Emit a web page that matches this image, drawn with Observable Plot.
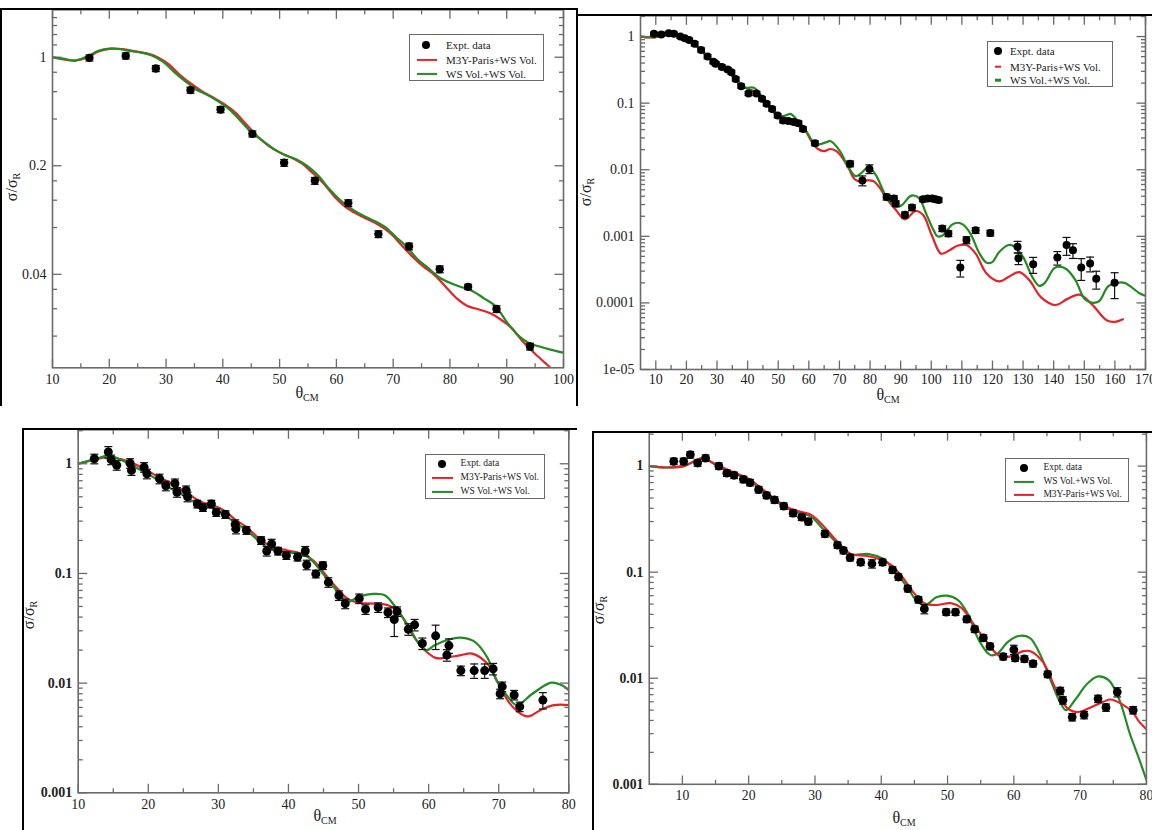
<!DOCTYPE html>
<html><head><meta charset="utf-8">
<script src="https://cdn.jsdelivr.net/npm/d3@7"></script>
<script src="https://cdn.jsdelivr.net/npm/@observablehq/plot@0.6"></script>
<style>
html,body{margin:0;padding:0;background:#fff;overflow:hidden;}
#root{position:relative;width:1152px;height:830px;overflow:hidden;background:#fff;font-family:"Liberation Serif",serif;color:#222;}
.panel{position:absolute;}
.panel svg text{font-family:"Liberation Serif",serif;}
.bline{position:absolute;background:#000;}
.legend{position:absolute;border:1.5px solid #6a6a6a;background:#fff;box-sizing:border-box;}
.legend .txt{position:absolute;white-space:nowrap;line-height:1;transform:translateY(-50%);color:#222;font-family:"Liberation Serif",serif;}
.legend .dot{position:absolute;border-radius:50%;background:#000;transform:translate(-50%,-50%);}
.legend .ln{position:absolute;transform:translateY(-50%);}
.title{position:absolute;white-space:nowrap;font-size:16px;line-height:1;color:#222;font-family:"Liberation Serif",serif;}
.title sub{font-size:10px;vertical-align:-3px;}
</style></head><body><div id="root"></div>
<script>
const RED = "#e3232a", GREEN = "#228b22", AX = "#6a6a6a";
const SERIF = "Liberation Serif, serif";

// ---------- Panel 1 (top-left) ----------
const p1PointX = [16.5, 22.9, 28.2, 34.3, 39.6, 45.2, 50.8, 56.2, 62.1, 67.4, 72.8, 78.2, 83.2, 88.2, 94.1];
const p1PointY = [0.99, 1.02, 0.846, 0.614, 0.46, 0.321, 0.209, 0.160, 0.115, 0.0726, 0.0605, 0.0431, 0.0332, 0.0239, 0.0137];
const p1PointErr = [0.045, 0.045, 0.045, 0.045, 0.045, 0.045, 0.05, 0.05, 0.05, 0.05, 0.05, 0.05, 0.04, 0.05, 0.05];
const p1RedX = [10, 13.9, 16.2, 18.1, 20.4, 22.3, 24.6, 26.9, 28.5, 30.5, 32.4, 34.4, 36.3, 38.3, 40.2, 42.2, 44.1, 46.1, 48, 50, 51.9, 53.9, 55.8, 57.8, 59.7, 61.7, 63.6, 65.6, 67.5, 69.5, 71.4, 73.4, 75.3, 77.3, 79.2, 81.2, 83.1, 85, 87, 89, 90.9, 92.8, 94.8, 96.7, 97.7, 98.5];
const p1RedY = [1.0, 0.952, 1.0, 1.09, 1.136, 1.13, 1.09, 1.05, 1.0, 0.90, 0.77, 0.675, 0.605, 0.55, 0.50, 0.44, 0.37, 0.31, 0.27, 0.244, 0.227, 0.207, 0.18, 0.153, 0.126, 0.108, 0.098, 0.09, 0.083, 0.0736, 0.062, 0.052, 0.045, 0.0395, 0.0334, 0.028, 0.025, 0.0238, 0.0225, 0.0204, 0.018, 0.0148, 0.0125, 0.0108, 0.0100, 0.0093];
const p1GreenX = [10, 11.9, 13.9, 16.2, 18.1, 20.1, 21.7, 23.6, 25.9, 27.5, 29.5, 31.4, 33.4, 35.3, 37.3, 39.2, 41.2, 43.1, 45.1, 47, 49, 50.9, 52.9, 54.8, 56.8, 58.7, 60.7, 62.6, 64.6, 66.5, 68.5, 70.4, 72.4, 74.3, 76.3, 78.2, 80.2, 82.1, 84.1, 86, 88, 89.9, 91.9, 93.8, 95.8, 97.7, 100];
const p1GreenY = [1.0, 0.98, 0.952, 1.015, 1.10, 1.136, 1.13, 1.10, 1.066, 1.025, 0.933, 0.805, 0.70, 0.62, 0.57, 0.52, 0.46, 0.39, 0.327, 0.29, 0.256, 0.235, 0.22, 0.2, 0.173, 0.142, 0.12, 0.106, 0.096, 0.089, 0.081, 0.070, 0.060, 0.050, 0.0435, 0.038, 0.035, 0.033, 0.031, 0.028, 0.025, 0.020, 0.0163, 0.0145, 0.0137, 0.0131, 0.0125];
const p1XTicks = [10, 20, 30, 40, 50, 60, 70, 80, 90, 100];
const p1XMinor = [15, 25, 35, 45, 55, 65, 75, 85, 95];
const p1YTicks = [1, 0.2, 0.04];
const p1YTickLabels = ["1", "0.2", "0.04"];
const p1YMinor = [1.8, 1.6, 1.4, 1.2, 0.8, 0.6, 0.4, 0.16, 0.12, 0.08, 0.032, 0.024, 0.016];

// ---------- Panel 2 (top-right) ----------
const p2PointX = [9.4, 11.8, 14.2, 15.9, 18, 19.5, 20.9, 22.7, 24.8, 26.9, 28.8, 29.6, 31.6, 33.5, 34.7, 36.1, 37.9, 40.3, 42.9, 44.7, 46.2, 48, 49.8, 51.6, 53.3, 55.1, 56.6, 58.1, 62, 73.5, 77.5, 79.8, 85.4, 87.8, 88.4, 91.4, 93.7, 97.3, 98.8, 100.3, 101.4, 102.4, 103.6, 105.6, 109.5, 111.5, 114.5, 119.3, 128.2, 128.5, 133.3, 141.2, 144.2, 146.3, 149, 151.9, 153.9, 159.9];
const p2PointY = [1.1, 1.07, 1.12, 1.1, 1.0, 0.94, 0.89, 0.78, 0.63, 0.5, 0.42, 0.39, 0.35, 0.32, 0.29, 0.23, 0.18, 0.14, 0.14, 0.116, 0.098, 0.082, 0.065, 0.055, 0.054, 0.052, 0.05, 0.041, 0.025, 0.0123, 0.0069, 0.0103, 0.0039, 0.0037, 0.0031, 0.0021, 0.0027, 0.0036, 0.0037, 0.0037, 0.0036, 0.0035, 0.00131, 0.0011, 0.00034, 0.00088, 0.00123, 0.00112, 0.00070, 0.00047, 0.00038, 0.00048, 0.00074, 0.00062, 0.00034, 0.00039, 0.00023, 0.0002];
const p2PointErr = [0.06, 0.06, 0.06, 0.06, 0.06, 0.06, 0.06, 0.07, 0.07, 0.07, 0.07, 0.07, 0.07, 0.07, 0.07, 0.07, 0.07, 0.07, 0.07, 0.07, 0.07, 0.07, 0.07, 0.08, 0.08, 0.08, 0.08, 0.08, 0.08, 0.1, 0.17, 0.15, 0.1, 0.1, 0.1, 0.1, 0.1, 0.08, 0.08, 0.08, 0.08, 0.08, 0.1, 0.1, 0.28, 0.12, 0.1, 0.1, 0.2, 0.2, 0.27, 0.23, 0.3, 0.25, 0.36, 0.25, 0.3, 0.42];
const p2RedX = [5, 8, 10, 12, 14, 16, 18, 20, 22.7, 25, 27.8, 30, 32, 34.5, 36.5, 38.5, 40.5, 42.5, 44.5, 46.5, 48.5, 50.5, 52.5, 55, 57, 59, 61, 63, 65, 67, 69, 71, 73, 75, 77, 79, 81, 83, 85.4, 88.4, 91.4, 94.9, 97.3, 100.3, 103.2, 106, 108.5, 111.5, 114.5, 118, 122.2, 125.5, 128.8, 132, 136, 140.6, 144.5, 148.4, 152.5, 157.3, 160, 162.6];
const p2RedY = [1.0, 0.97, 0.98, 1.06, 1.14, 1.08, 0.98, 0.9, 0.76, 0.62, 0.47, 0.41, 0.37, 0.29, 0.22, 0.18, 0.16, 0.15, 0.125, 0.1, 0.075, 0.06, 0.056, 0.057, 0.05, 0.038, 0.026, 0.0205, 0.019, 0.0205, 0.019, 0.015, 0.0105, 0.0072, 0.0066, 0.0069, 0.0068, 0.0055, 0.0037, 0.0025, 0.0018, 0.0024, 0.0021, 0.00100, 0.00055, 0.00062, 0.00072, 0.00074, 0.00055, 0.00028, 0.00021, 0.00025, 0.00029, 0.00022, 0.00012, 0.000093, 0.000115, 0.000133, 0.000095, 0.000055, 0.000052, 0.000057];
const p2GreenX = [5, 8, 10, 12, 14, 16, 18.3, 20.5, 23, 25.5, 27.8, 30, 31.4, 33, 34.9, 36.5, 37.9, 39.7, 42.1, 44.4, 46, 47.4, 49.8, 52.2, 54, 56.3, 59.3, 61.7, 62.9, 65.8, 67, 70, 72.9, 75.3, 77.1, 79.5, 81.9, 85.4, 88.4, 90.2, 93.1, 94.3, 96.1, 98.5, 100.9, 102, 103.8, 106.8, 108.6, 110.4, 112.8, 115.7, 118.1, 119.9, 122.2, 125.2, 127, 130, 132.9, 135.3, 137.1, 140.1, 141.8, 144.2, 147.1, 150.1, 152.4, 154.8, 157.8, 160.8, 163.2, 165.6, 168, 170];
const p2GreenY = [1.0, 0.98, 0.98, 1.08, 1.16, 1.07, 0.98, 0.87, 0.73, 0.58, 0.46, 0.40, 0.37, 0.32, 0.26, 0.21, 0.18, 0.17, 0.17, 0.13, 0.105, 0.087, 0.065, 0.065, 0.069, 0.055, 0.037, 0.025, 0.024, 0.026, 0.027, 0.0195, 0.011, 0.008, 0.0089, 0.011, 0.0083, 0.0039, 0.0028, 0.0029, 0.0040, 0.0041, 0.0037, 0.0021, 0.0012, 0.00100, 0.00104, 0.0015, 0.0016, 0.0015, 0.0011, 0.00056, 0.00040, 0.00041, 0.00058, 0.00074, 0.00071, 0.00049, 0.00025, 0.00018, 0.00020, 0.00033, 0.00035, 0.00032, 0.00022, 0.000115, 0.000101, 0.000106, 0.000177, 0.0002, 0.0002, 0.00017, 0.00014, 0.000128];
const p2XTicks = [10, 20, 30, 40, 50, 60, 70, 80, 90, 100, 110, 120, 130, 140, 150, 160, 170];
const p2XMinor = [15, 25, 35, 45, 55, 65, 75, 85, 95, 105, 115, 125, 135, 145, 155, 165];
const p2YTicks = [1, 0.1, 0.01, 0.001, 0.0001, 0.00001];
const p2YTickLabels = ["1", "0.1", "0.01", "0.001", "0.0001", "1e-05"];
const p2YMinor = [2, 0.9, 0.8, 0.7, 0.6, 0.5, 0.4, 0.3, 0.2, 0.09, 0.08, 0.07, 0.06, 0.05, 0.04, 0.03, 0.02, 0.009, 0.008, 0.007, 0.006, 0.005, 0.004, 0.003, 0.002, 0.0009, 0.0008, 0.0007, 0.0006, 0.0005, 0.0004, 0.0003, 0.0002, 0.00009, 0.00008, 0.00007, 0.00006, 0.00005, 0.00004, 0.00003, 0.00002];

// ---------- Panel 3 (bottom-left) ----------
const p3PointX = [12.3, 14.3, 14.7, 15.5, 17.4, 17.6, 19.4, 19.8, 21.6, 22.5, 23.8, 24.1, 25.4, 25.6, 27, 27.8, 29, 29.7, 31, 32.4, 32.5, 34, 36.1, 36.9, 37.6, 38.5, 39.7, 41.3, 42.4, 42.6, 43.9, 44.9, 45.7, 47.2, 48.1, 50.1, 51, 52.8, 54.2, 55.1, 55.5, 57.1, 58, 59.1, 61, 62.6, 62.9, 64.6, 66.5, 68, 69.2, 70.2, 70.5, 72.2, 73, 76.3];
const p3PointY = [1.11, 1.28, 1.09, 0.97, 1.01, 0.87, 0.93, 0.81, 0.73, 0.63, 0.66, 0.55, 0.57, 0.50, 0.43, 0.40, 0.43, 0.36, 0.345, 0.28, 0.255, 0.247, 0.20, 0.16, 0.186, 0.16, 0.146, 0.141, 0.16, 0.12, 0.099, 0.118, 0.083, 0.063, 0.053, 0.059, 0.047, 0.049, 0.044, 0.038, 0.045, 0.031, 0.034, 0.023, 0.027, 0.018, 0.022, 0.013, 0.013, 0.013, 0.0135, 0.008, 0.0093, 0.0078, 0.0061, 0.0070];
const p3PointErr = [0.1, 0.12, 0.1, 0.1, 0.1, 0.1, 0.1, 0.1, 0.1, 0.1, 0.1, 0.1, 0.1, 0.1, 0.08, 0.08, 0.08, 0.08, 0.08, 0.1, 0.1, 0.08, 0.08, 0.1, 0.1, 0.08, 0.08, 0.08, 0.1, 0.1, 0.08, 0.08, 0.1, 0.1, 0.1, 0.1, 0.1, 0.1, 0.1, 0.3, 0.1, 0.12, 0.12, 0.12, 0.25, 0.12, 0.15, 0.1, 0.15, 0.15, 0.12, 0.1, 0.1, 0.1, 0.1, 0.17];
const p3RedX = [10, 12, 14.2, 16.3, 19, 21.1, 23.3, 25.4, 27.5, 29.1, 30.8, 32.4, 34, 36.1, 37.7, 39.9, 42, 43.6, 45.2, 46.8, 48.4, 50, 52.2, 54.3, 55.9, 57.5, 59.1, 61, 62.3, 64.6, 66.2, 68.4, 70, 71.6, 73.5, 74.4, 76, 77.9, 80];
const p3RedY = [1.0, 1.08, 1.15, 1.09, 0.93, 0.78, 0.66, 0.55, 0.45, 0.42, 0.375, 0.31, 0.265, 0.20, 0.175, 0.162, 0.151, 0.13, 0.099, 0.075, 0.059, 0.054, 0.053, 0.051, 0.043, 0.029, 0.021, 0.017, 0.017, 0.018, 0.0186, 0.0150, 0.0098, 0.0065, 0.0051, 0.0050, 0.0057, 0.0063, 0.0063];
const p3GreenX = [10, 12.6, 14.4, 16.3, 19, 21.1, 23.3, 25.4, 26.5, 27.8, 29.1, 30.4, 32.1, 34, 36.1, 37.2, 39.3, 41.5, 42.8, 44.2, 45.7, 47.3, 48.4, 50, 52.2, 53.8, 55.4, 57, 58.6, 59.7, 60.8, 62.9, 64.6, 66.5, 68.4, 69.7, 71.3, 72.6, 74.8, 77.5, 79.1, 80];
const p3GreenY = [1.0, 1.11, 1.19, 1.07, 0.87, 0.73, 0.59, 0.50, 0.45, 0.41, 0.40, 0.36, 0.30, 0.247, 0.19, 0.168, 0.157, 0.151, 0.141, 0.114, 0.086, 0.065, 0.055, 0.061, 0.065, 0.063, 0.048, 0.034, 0.023, 0.020, 0.022, 0.025, 0.026, 0.024, 0.017, 0.0105, 0.0075, 0.0063, 0.0080, 0.0101, 0.0095, 0.0086];
const p3XTicks = [10, 20, 30, 40, 50, 60, 70, 80];
const p3XMinor = [15, 25, 35, 45, 55, 65, 75];
const p3YTicks = [1, 0.1, 0.01, 0.001];
const p3YTickLabels = ["1", "0.1", "0.01", "0.001"];
const p3YMinor = [2, 0.9, 0.8, 0.7, 0.6, 0.5, 0.4, 0.3, 0.2, 0.09, 0.08, 0.07, 0.06, 0.05, 0.04, 0.03, 0.02, 0.009, 0.008, 0.007, 0.006, 0.005, 0.004, 0.003, 0.002];

// ---------- Panel 4 (bottom-right) ----------
const p4PointX = [8.7, 10.2, 11.2, 12.3, 13.5, 15.5, 16.7, 17.8, 19.2, 20.2, 21.5, 22.7, 23.9, 25.3, 26.7, 28, 29, 31.5, 33.4, 34.3, 35.3, 36.9, 38.6, 40.2, 41.7, 42.6, 44, 45.6, 46.5, 49.8, 51.2, 52.9, 54.1, 55.4, 56.4, 58.4, 60, 60.2, 61.6, 62.9, 65.1, 67, 67.4, 68.8, 70.6, 72.7, 73.9, 75.6, 78];
const p4PointY = [1.11, 1.11, 1.28, 1.07, 1.19, 1.0, 0.86, 0.82, 0.75, 0.70, 0.60, 0.53, 0.48, 0.42, 0.36, 0.33, 0.30, 0.23, 0.18, 0.16, 0.137, 0.124, 0.12, 0.124, 0.105, 0.09, 0.070, 0.055, 0.045, 0.042, 0.042, 0.036, 0.029, 0.024, 0.020, 0.016, 0.0186, 0.0155, 0.0152, 0.0137, 0.0109, 0.0076, 0.0062, 0.0043, 0.0045, 0.0064, 0.0053, 0.0074, 0.0050];
const p4PointErr = [0.07, 0.07, 0.07, 0.07, 0.07, 0.07, 0.07, 0.07, 0.07, 0.07, 0.07, 0.07, 0.07, 0.07, 0.07, 0.07, 0.07, 0.07, 0.07, 0.07, 0.07, 0.07, 0.09, 0.07, 0.07, 0.07, 0.07, 0.07, 0.1, 0.07, 0.07, 0.07, 0.07, 0.07, 0.07, 0.07, 0.1, 0.07, 0.07, 0.07, 0.07, 0.08, 0.08, 0.08, 0.08, 0.08, 0.08, 0.1, 0.08];
const p4RedX = [5, 7.5, 10.2, 11.8, 13.1, 15, 17.2, 19.6, 21.5, 23.6, 25.8, 27.9, 29.5, 31.1, 33.3, 35.4, 37.6, 39.7, 41.3, 43, 44.8, 46.5, 48.3, 50.5, 52.1, 53.7, 55.9, 57.7, 59.1, 61.5, 62.5, 64.4, 66.5, 68.1, 69.7, 71.3, 73.5, 74.6, 76.3, 77.9, 78.9, 80];
const p4RedY = [1.0, 0.97, 1.0, 1.11, 1.19, 1.04, 0.9, 0.78, 0.65, 0.51, 0.41, 0.37, 0.345, 0.28, 0.196, 0.148, 0.143, 0.133, 0.119, 0.093, 0.065, 0.051, 0.049, 0.051, 0.046, 0.034, 0.022, 0.0164, 0.0159, 0.018, 0.018, 0.0142, 0.0075, 0.0052, 0.0048, 0.0052, 0.0060, 0.0063, 0.0057, 0.0048, 0.0039, 0.0033];
const p4GreenX = [5, 7.5, 10.2, 11.8, 13.1, 15, 17.2, 19.6, 21.5, 23.6, 25.8, 27.9, 29.5, 31.1, 33.3, 35.4, 38.1, 40.3, 42.4, 44, 45.4, 46.7, 48.3, 49.9, 51.5, 53.1, 54.7, 56.4, 57.5, 59.1, 60.7, 62.4, 64, 65.6, 67, 67.9, 69.2, 71.1, 72.7, 74.3, 75.9, 77.5, 78.8, 80];
const p4GreenY = [1.0, 0.97, 1.0, 1.11, 1.19, 1.03, 0.89, 0.77, 0.63, 0.49, 0.40, 0.36, 0.33, 0.26, 0.19, 0.148, 0.148, 0.133, 0.096, 0.071, 0.053, 0.049, 0.058, 0.060, 0.055, 0.040, 0.023, 0.0166, 0.017, 0.022, 0.025, 0.024, 0.0166, 0.0094, 0.0059, 0.005, 0.0062, 0.0089, 0.0104, 0.0096, 0.0063, 0.0030, 0.0018, 0.0011];
const p4XTicks = [10, 20, 30, 40, 50, 60, 70, 80];
const p4XMinor = [15, 25, 35, 45, 55, 65, 75];
const p4YTicks = [1, 0.1, 0.01, 0.001];
const p4YTickLabels = ["1", "0.1", "0.01", "0.001"];
const p4YMinor = [2, 0.9, 0.8, 0.7, 0.6, 0.5, 0.4, 0.3, 0.2, 0.09, 0.08, 0.07, 0.06, 0.05, 0.04, 0.03, 0.02, 0.009, 0.008, 0.007, 0.006, 0.005, 0.004, 0.003, 0.002];

const LBL_EXPT = "Expt. data", LBL_M3Y = "M3Y-Paris+WS Vol.", LBL_WS = "WS Vol.+WS Vol.";

// ---------- helpers ----------
const seg = (dx, dy) => ({draw(ctx, size) { const l = Math.sqrt(size / Math.PI); ctx.moveTo(0, 0); ctx.lineTo(dx * l, dy * l); }});
const TUP = seg(0, -1), TDOWN = seg(0, 1), TRIGHT = seg(1, 0), TLEFT = seg(-1, 0);
const CAP = {draw(ctx, size) { const l = Math.sqrt(size / Math.PI); ctx.moveTo(-l, 0); ctx.lineTo(l, 0); }};

function ticks(vals, len, axis) {
  const o = {fill: "none", stroke: AX, strokeWidth: 1.3, r: len};
  if (axis === "x") return [
    Plot.dot(vals, {...o, x: d => d, frameAnchor: "bottom", symbol: TUP}),
    Plot.dot(vals, {...o, x: d => d, frameAnchor: "top", symbol: TDOWN})
  ];
  return [
    Plot.dot(vals, {...o, y: d => d, frameAnchor: "left", symbol: TRIGHT}),
    Plot.dot(vals, {...o, y: d => d, frameAnchor: "right", symbol: TLEFT})
  ];
}

const root = document.getElementById("root");

function panel(c) {
  const pts = c.px.map((x, i) => ({x, y: c.py[i], lo: c.py[i] * (1 - c.pe[i]), hi: c.py[i] * (1 + c.pe[i])}));
  const lines = c.curves.map(cv => Plot.line(cv.x.map((x, i) => ({x, y: cv.y[i]})),
    {x: "x", y: "y", stroke: cv.color, strokeWidth: 2.2, curve: "catmull-rom", clip: true}));
  const labMap = new Map(c.yTicks.map((v, i) => [v, c.yLabels[i]]));
  const plot = Plot.plot({
    width: c.w, height: c.h,
    marginLeft: c.ml, marginRight: c.mr, marginTop: c.mt, marginBottom: c.mb,
    x: {type: "linear", domain: c.xDomain, label: null},
    y: {type: "log", domain: c.yDomain, label: null},
    style: {fontFamily: SERIF, fontSize: "14px", background: "transparent", color: "#222", overflow: "visible"},
    marks: [
      ...lines,
      Plot.ruleX(pts, {x: "x", y1: "lo", y2: "hi", stroke: "#111", strokeWidth: 1.2}),
      Plot.dot(pts, {x: "x", y: "lo", symbol: CAP, r: 4, fill: "none", stroke: "#111", strokeWidth: 1.2}),
      Plot.dot(pts, {x: "x", y: "hi", symbol: CAP, r: 4, fill: "none", stroke: "#111", strokeWidth: 1.2}),
      Plot.dot(pts, {x: "x", y: "y", r: c.dotR, fill: "#000", stroke: "none"}),
      ...ticks(c.xTicks, 9, "x"), ...ticks(c.xMinor, 4.5, "x"),
      ...ticks(c.yTicks, 9, "y"), ...ticks(c.yMinor, 4.5, "y"),
      Plot.frame({stroke: AX, strokeWidth: 1.6}),
      Plot.axisX(c.xTicks, {anchor: "bottom", tickSize: 0, tickPadding: c.xPad, label: null, fontSize: 14, fontFamily: SERIF, tickFormat: d => String(d)}),
      Plot.axisY(c.yTicks, {anchor: "left", tickSize: 0, tickPadding: 6, label: null, fontSize: 14, fontFamily: SERIF, fontWeight: c.yBold ? "bold" : "normal", tickFormat: d => labMap.get(d)})
    ]
  });
  const holder = document.createElement("div");
  holder.className = "panel";
  holder.style.left = c.left + "px"; holder.style.top = c.top + "px";
  holder.appendChild(plot);
  root.appendChild(holder);

  // axis titles
  const xt = document.createElement("div");
  xt.className = "title";
  xt.innerHTML = "θ<sub>CM</sub>";
  xt.style.left = c.xTitle[0] + "px"; xt.style.top = c.xTitle[1] + "px";
  xt.style.transform = "translate(-50%,-50%)";
  root.appendChild(xt);
  const yt = document.createElement("div");
  yt.className = "title";
  yt.innerHTML = "σ/σ<sub>R</sub>";
  yt.style.left = c.yTitle[0] + "px"; yt.style.top = c.yTitle[1] + "px";
  yt.style.transform = "translate(-50%,-50%) rotate(-90deg)";
  root.appendChild(yt);

  // legend
  const L = c.legend;
  const box = document.createElement("div");
  box.className = "legend";
  Object.assign(box.style, {left: L.x + "px", top: L.y + "px", width: L.w + "px", height: L.h + "px"});
  L.rows.forEach(r => {
    if (r.kind === "dot") {
      const d = document.createElement("div"); d.className = "dot";
      Object.assign(d.style, {left: L.mx + "px", top: r.y + "px", width: 8 + "px", height: 8 + "px"});
      box.appendChild(d);
    } else {
      const d = document.createElement("div"); d.className = "ln";
      const x1 = L.dash ? L.mx - 3 : L.lx1, x2 = L.dash ? L.mx + 3 : L.lx2;
      Object.assign(d.style, {left: x1 + "px", top: r.y + "px", width: (x2 - x1) + "px", height: (L.dash ? 2.6 : 2.2) + "px", background: r.color});
      box.appendChild(d);
    }
    const t = document.createElement("div"); t.className = "txt";
    t.textContent = r.label;
    Object.assign(t.style, {left: L.tx + "px", top: r.y + "px", fontSize: L.fs + "px"});
    box.appendChild(t);
  });
  root.appendChild(box);
}

panel({
  left: 0, top: 0, w: 574, h: 408, ml: 52, mr: 11, mt: 9.3, mb: 40.7,
  xDomain: [10, 100], yDomain: [0.01, 2.02], xPad: 6, yBold: false, dotR: 4.2,
  px: p1PointX, py: p1PointY, pe: p1PointErr,
  curves: [{x: p1RedX, y: p1RedY, color: RED}, {x: p1GreenX, y: p1GreenY, color: GREEN}],
  xTicks: p1XTicks, xMinor: p1XMinor, yTicks: p1YTicks, yLabels: p1YTickLabels, yMinor: p1YMinor,
  xTitle: [307, 394], yTitle: [13, 187],
  legend: {x: 409, y: 34, w: 135, h: 47, mx: 16, lx1: 6.5, lx2: 27, tx: 36, fs: 11, dash: false,
    rows: [{kind: "dot", label: LBL_EXPT, y: 10}, {kind: "line", color: RED, label: LBL_M3Y, y: 25}, {kind: "line", color: GREEN, label: LBL_WS, y: 38.5}]}
});

panel({
  left: 580, top: 0, w: 572, h: 408, ml: 60, mr: 7, mt: 15.3, mb: 39,
  xDomain: [5, 170], yDomain: [0.00001, 2.05], xPad: 5, yBold: false, dotR: 4,
  px: p2PointX, py: p2PointY, pe: p2PointErr,
  curves: [{x: p2RedX, y: p2RedY, color: RED}, {x: p2GreenX, y: p2GreenY, color: GREEN}],
  xTicks: p2XTicks, xMinor: p2XMinor, yTicks: p2YTicks, yLabels: p2YTickLabels, yMinor: p2YMinor,
  xTitle: [888, 396], yTitle: [587, 192],
  legend: {x: 987, y: 40.7, w: 126, h: 46.6, mx: 10, lx1: 7, lx2: 13, tx: 22, fs: 11, dash: true,
    rows: [{kind: "dot", label: LBL_EXPT, y: 9.5}, {kind: "line", color: RED, label: LBL_M3Y, y: 25}, {kind: "line", color: GREEN, label: LBL_WS, y: 38.3}]}
});

panel({
  left: 25, top: 420, w: 551, h: 410, ml: 52.7, mr: 7.7, mt: 9.3, mb: 37.7,
  xDomain: [10, 80], yDomain: [0.001, 2.04], xPad: 6, yBold: true, dotR: 4.5,
  px: p3PointX, py: p3PointY, pe: p3PointErr,
  curves: [{x: p3RedX, y: p3RedY, color: RED}, {x: p3GreenX, y: p3GreenY, color: GREEN}],
  xTicks: p3XTicks, xMinor: p3XMinor, yTicks: p3YTicks, yLabels: p3YTickLabels, yMinor: p3YMinor,
  xTitle: [325, 817], yTitle: [30, 615],
  legend: {x: 425, y: 454.3, w: 120, h: 44.7, mx: 15.8, lx1: 6.4, lx2: 27, tx: 34.6, fs: 9.5, dash: false,
    rows: [{kind: "dot", label: LBL_EXPT, y: 9}, {kind: "line", color: RED, label: LBL_M3Y, y: 23}, {kind: "line", color: GREEN, label: LBL_WS, y: 36.4}]}
});

panel({
  left: 595, top: 420, w: 570, h: 410, ml: 55, mr: 6.2, mt: 11.7, mb: 37.7,
  xDomain: [5, 80], yDomain: [0.001, 2.1], xPad: 6, yBold: true, dotR: 4.5,
  px: p4PointX, py: p4PointY, pe: p4PointErr,
  curves: [{x: p4GreenX, y: p4GreenY, color: GREEN}, {x: p4RedX, y: p4RedY, color: RED}],
  xTicks: p4XTicks, xMinor: p4XMinor, yTicks: p4YTicks, yLabels: p4YTickLabels, yMinor: p4YMinor,
  xTitle: [904, 819], yTitle: [600, 610],
  legend: {x: 1005.4, y: 457.7, w: 124, h: 44, mx: 17.2, lx1: 8, lx2: 28, tx: 37, fs: 9.5, dash: false,
    rows: [{kind: "dot", label: LBL_EXPT, y: 9}, {kind: "line", color: GREEN, label: LBL_WS, y: 23}, {kind: "line", color: RED, label: LBL_M3Y, y: 36}]}
});

// image border lines of the four pasted figures
[[0, 8, 577, 1.5], [0, 8, 1.5, 398], [576, 8, 1.5, 398], [577, 14, 575, 1.5],
 [22, 428, 555, 1.5], [22, 428, 1.5, 402], [592, 431, 560, 1.5], [592, 431, 1.5, 399]].forEach(([l, t, w, h]) => {
  const d = document.createElement("div"); d.className = "bline";
  Object.assign(d.style, {left: l + "px", top: t + "px", width: w + "px", height: h + "px"});
  root.appendChild(d);
});
</script></body></html>
